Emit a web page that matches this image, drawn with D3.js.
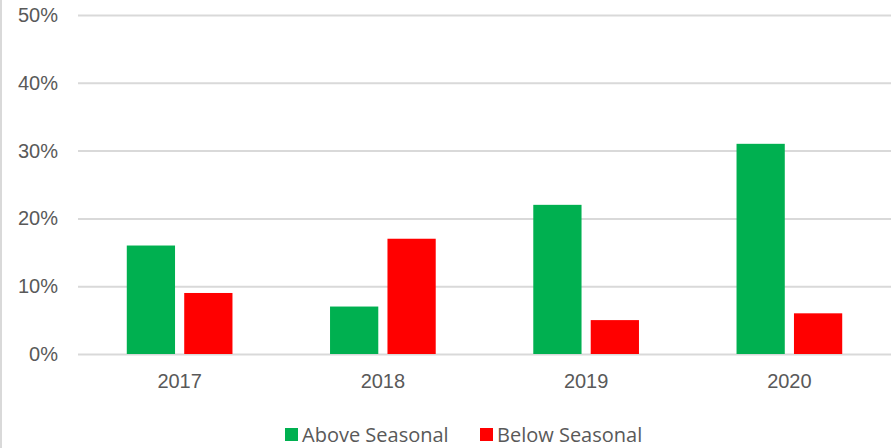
<!DOCTYPE html>
<html>
<head>
<meta charset="utf-8">
<script src="https://cdn.jsdelivr.net/npm/d3@7"></script>
<style>
  body { margin: 0; background: #fff; }
  svg { display: block; font-family: "Open Sans", sans-serif; }
</style>
</head>
<body>
<div id="chart"></div>
<script>
// chart data
var years = ["2017", "2018", "2019", "2020"];
var seriesNames = ["Above Seasonal", "Below Seasonal"];
var above = [0.16, 0.07, 0.22, 0.31];
var below = [0.09, 0.17, 0.05, 0.06];
var yTicks = [0, 0.1, 0.2, 0.3, 0.4, 0.5];

var colors = ["#00b050", "#ff0000"];

var width = 895, height = 448;
var margin = {top: 15, right: 4, bottom: 94, left: 78};
var fontSize = "20px";

var svg = d3.select("#chart").append("svg")
  .attr("width", width)
  .attr("height", height);

// left border line of the chart box
svg.append("line")
  .attr("x1", 1).attr("x2", 1)
  .attr("y1", 0).attr("y2", height)
  .attr("stroke", "#d9d9d9")
  .attr("stroke-width", 2);

var x0 = d3.scaleBand()
  .domain(years)
  .range([margin.left, width - margin.right])
  .paddingInner(0.48)
  .paddingOuter(0.24);

var x1 = d3.scaleBand()
  .domain(seriesNames)
  .range([0, x0.bandwidth()])
  .paddingInner(0.16);

var y = d3.scaleLinear()
  .domain([0, 0.5])
  .range([height - margin.bottom, margin.top]);

// gridlines
var yAxis = svg.append("g")
  .attr("transform", "translate(" + margin.left + ",0)")
  .call(d3.axisLeft(y)
    .tickValues(yTicks)
    .tickSize(-(width - margin.left - margin.right))
    .tickPadding(20)
    .tickFormat(d3.format(".0%")));
yAxis.select(".domain").remove();
yAxis.selectAll(".tick line").attr("stroke", "#d9d9d9").attr("stroke-width", 2);
yAxis.selectAll(".tick text")
  .attr("fill", "#595959")
  .style("font-size", fontSize);

// bars
var rows = years.map(function(yr, i) {
  return {year: yr, values: [above[i], below[i]]};
});

var groups = svg.selectAll("g.year")
  .data(rows)
  .enter().append("g")
  .attr("class", "year")
  .attr("transform", function(d) { return "translate(" + x0(d.year) + ",0)"; });

groups.selectAll("rect")
  .data(function(d) {
    return d.values.map(function(v, j) { return {name: seriesNames[j], value: v, idx: j}; });
  })
  .enter().append("rect")
  .attr("x", function(d) { return x1(d.name); })
  .attr("width", x1.bandwidth())
  .attr("y", function(d) { return y(d.value); })
  .attr("height", function(d) { return y(0) - y(d.value); })
  .attr("fill", function(d) { return colors[d.idx]; });

// x axis labels
var xAxis = svg.append("g")
  .attr("transform", "translate(0," + y(0) + ")")
  .call(d3.axisBottom(x0).tickSize(0).tickPadding(20));
xAxis.select(".domain").remove();
xAxis.selectAll(".tick text")
  .attr("fill", "#595959")
  .style("font-size", fontSize);

// legend
var legendX = [285, 480];
var legend = svg.append("g");
var items = legend.selectAll("g")
  .data(seriesNames)
  .enter().append("g")
  .attr("transform", function(d, i) { return "translate(" + legendX[i] + ",428)"; });
items.append("rect")
  .attr("width", 13).attr("height", 13)
  .attr("fill", function(d, i) { return colors[i]; });
items.append("text")
  .attr("x", 17)
  .attr("y", 14)
  .attr("fill", "#595959")
  .style("font-size", fontSize)
  .text(function(d) { return d; });
</script>
</body>
</html>
